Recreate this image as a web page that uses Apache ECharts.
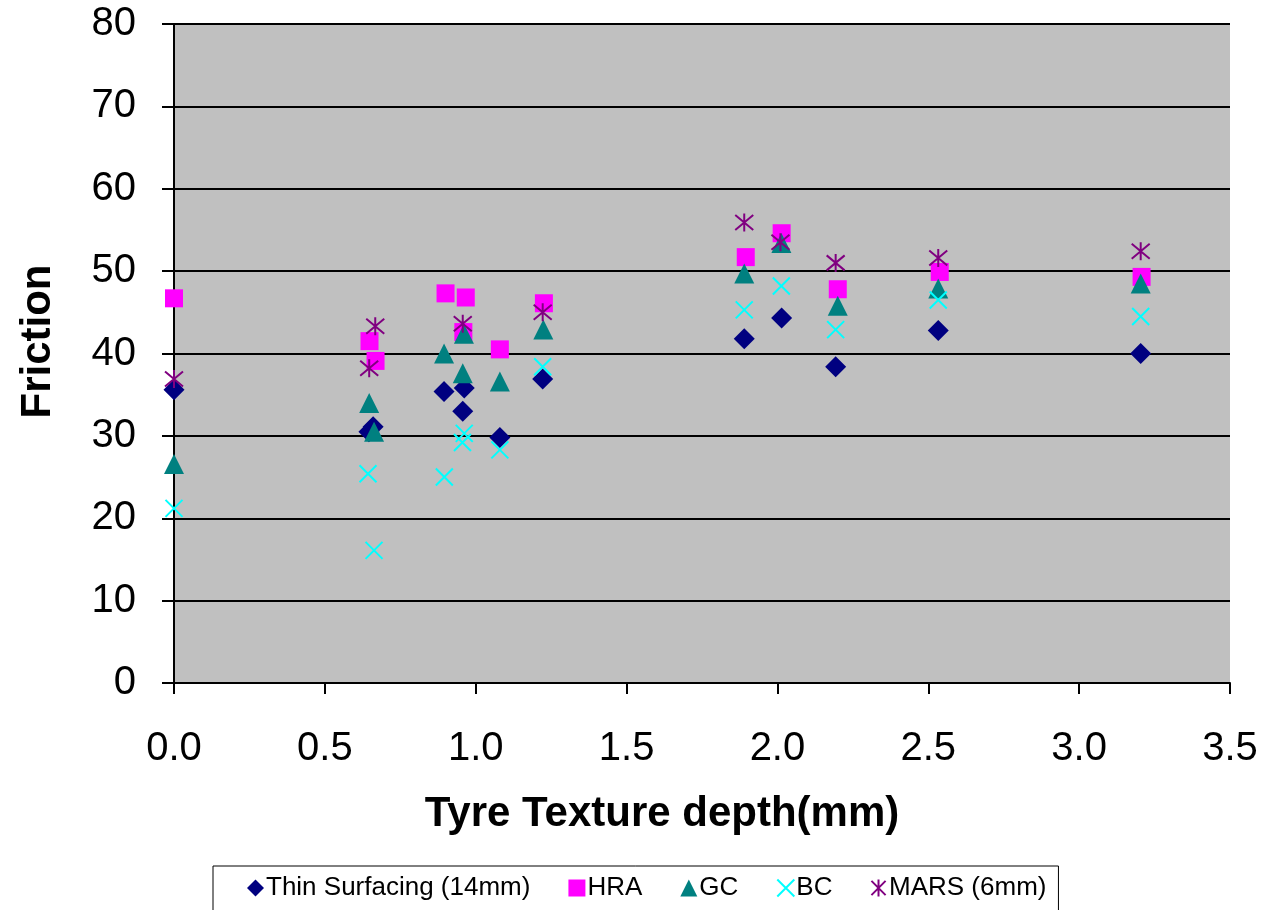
<!DOCTYPE html>
<html>
<head>
<meta charset="utf-8">
<script src="https://cdn.jsdelivr.net/npm/echarts@6/dist/echarts.min.js"></script>
<style>
html,body{margin:0;padding:0;background:#fff;}
#chart{width:1266px;height:910px;}
</style>
</head>
<body>
<div id="chart"></div>
<script>
const xTicks = [0, 0.5, 1.0, 1.5, 2.0, 2.5, 3.0, 3.5];
const yTicks = [0, 10, 20, 30, 40, 50, 60, 70, 80];

const thinX = [0, 0.646, 0.660, 0.895, 0.957, 0.962, 1.08, 1.222, 1.89, 2.014, 2.193, 2.533, 3.204];
const thinY = [35.6, 30.5, 31.1, 35.4, 33.0, 35.8, 29.8, 36.9, 41.8, 44.3, 38.4, 42.8, 40.0];

const hraX = [0, 0.648, 0.668, 0.900, 0.959, 0.967, 1.08, 1.226, 1.895, 2.014, 2.200, 2.538, 3.207];
const hraY = [46.7, 41.5, 39.1, 47.3, 42.6, 46.8, 40.5, 46.1, 51.7, 54.6, 47.8, 49.9, 49.3];

const gcX = [0, 0.647, 0.663, 0.895, 0.957, 0.961, 1.08, 1.224, 1.890, 2.013, 2.200, 2.533, 3.204];
const gcY = [26.6, 34.0, 30.5, 40.0, 37.6, 42.4, 36.6, 42.9, 49.7, 53.4, 45.8, 47.9, 48.5];

const bcX = [0, 0.643, 0.663, 0.896, 0.956, 0.962, 1.08, 1.222, 1.890, 2.013, 2.193, 2.533, 3.204];
const bcY = [21.2, 25.4, 16.1, 25.0, 29.2, 30.3, 28.3, 38.4, 45.3, 48.2, 42.9, 46.5, 44.5];

const marsX = [0, 0.647, 0.667, 0.957, 1.222, 1.890, 2.010, 2.193, 2.533, 3.204];
const marsY = [36.9, 38.2, 43.3, 43.6, 45.0, 55.9, 53.5, 51.0, 51.6, 52.4];

const seriesNames = ['Thin Surfacing (14mm)', 'HRA', 'GC', 'BC', 'MARS (6mm)'];

function pairs(xs, ys) { return xs.map((x, i) => [x, ys[i]]); }

const FONT = '"Liberation Sans", Arial, sans-serif';
const chart = echarts.init(document.getElementById('chart'), null, {renderer: 'canvas'});

const crossPath = 'path://M0,0L10,10M10,0L0,10';
const starPath = 'path://M0,0L10,10M10,0L0,10M5,-1L5,11';

chart.setOption({
  animation: false,
  backgroundColor: '#ffffff',
  grid: {left: 174, right: 36, top: 24, bottom: 227, show: true, backgroundColor: '#C0C0C0', borderWidth: 0,
    containLabel: false, outerBoundsMode: 'none'},
  xAxis: {
    type: 'value', min: 0, max: 3.5, interval: 0.5,
    name: 'Tyre Texture depth(mm)', nameLocation: 'middle', nameGap: 110,
    nameTextStyle: {fontFamily: FONT, fontSize: 42, fontWeight: 'bold', color: '#000', padding: [0, 80, 0, 0]},
    axisLine: {show: true, onZero: false, lineStyle: {color: '#000', width: 2}},
    axisTick: {show: true, inside: false, length: 11, lineStyle: {color: '#000', width: 2}},
    axisLabel: {fontFamily: FONT, fontSize: 40, color: '#000', margin: 46,
      formatter: v => v.toFixed(1)},
    splitLine: {show: false}
  },
  yAxis: {
    type: 'value', min: 0, max: 80, interval: 10,
    name: 'Friction', nameLocation: 'middle', nameGap: 115, nameRotate: 90,
    nameTextStyle: {fontFamily: FONT, fontSize: 42, fontWeight: 'bold', color: '#000', padding: [0, 0, 0, 24]},
    axisLine: {show: true, onZero: false, lineStyle: {color: '#000', width: 2}},
    axisTick: {show: true, inside: false, length: 12, lineStyle: {color: '#000', width: 2}},
    axisLabel: {fontFamily: FONT, fontSize: 40, color: '#000', margin: 38,
      formatter: v => String(v)},
    splitLine: {show: true, lineStyle: {color: '#000', width: 2}}
  },
  legend: {
    left: 213, top: 866,
    data: seriesNames,
    itemWidth: 17, itemHeight: 17, itemGap: 38,
    padding: [9, 12, 40, 34],
    borderColor: '#000', borderWidth: 1, backgroundColor: '#fff',
    textStyle: {fontFamily: FONT, fontSize: 26, color: '#000', padding: [0, 0, 0, -3]}
  },
  series: [
    {name: seriesNames[0], type: 'scatter', data: pairs(thinX, thinY), symbol: 'diamond', symbolSize: 21,
      itemStyle: {color: '#000080', opacity: 1}},
    {name: seriesNames[1], type: 'scatter', data: pairs(hraX, hraY), symbol: 'rect', symbolSize: 18,
      itemStyle: {color: '#FF00FF', opacity: 1}},
    {name: seriesNames[2], type: 'scatter', data: pairs(gcX, gcY), symbol: 'triangle', symbolSize: [20, 20],
      itemStyle: {color: '#008080', opacity: 1}},
    {name: seriesNames[3], type: 'scatter', data: pairs(bcX, bcY), symbol: crossPath, symbolSize: 17,
      itemStyle: {color: '#00FFFF', borderColor: '#00FFFF', borderWidth: 2, opacity: 1}},
    {name: seriesNames[4], type: 'scatter', data: pairs(marsX, marsY), symbol: starPath, symbolSize: 18,
      itemStyle: {color: '#800080', borderColor: '#800080', borderWidth: 2, opacity: 1}}
  ]
});
</script>
</body>
</html>
